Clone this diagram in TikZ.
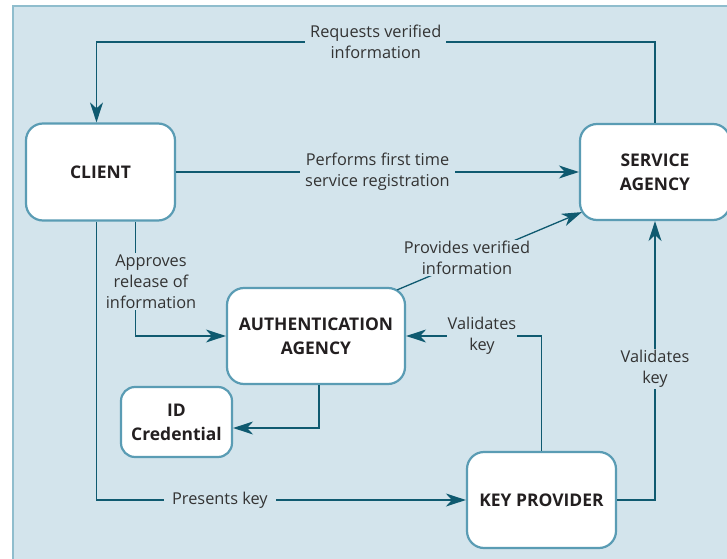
\documentclass[tikz,border=0pt]{standalone}
\usepackage{fontspec}
\setmainfont{Open Sans}
\usetikzlibrary{arrows.meta,calc}
\definecolor{bg}{HTML}{D3E4EC}
\definecolor{panelline}{HTML}{8FBDCD}
\definecolor{boxline}{HTML}{5A9CB4}
\definecolor{conncol}{HTML}{0F5A70}
\definecolor{txt}{HTML}{231F20}
\definecolor{lbl}{HTML}{333333}
\begin{document}
\begin{tikzpicture}[x=1bp,y=-1bp,
 box/.style={draw=boxline,line width=2.2bp,fill=white,rounded corners=17bp,
   font=\fontsize{17.5}{24}\selectfont\bfseries,text=txt,align=center,inner sep=0pt},
 conn/.style={draw=conncol,line width=1.3bp},
 arr/.style={conn,-{Stealth[length=20bp,width=13bp,inset=6bp]}},
 lab/.style={fill=bg,font=\fontsize{16.4}{21}\selectfont,text=lbl,align=center,inner xsep=5bp,inner ysep=1.5bp}]
\useasboundingbox (0,0) rectangle (727,559);
\fill[bg] (13,6) rectangle (740,570);
\draw[panelline,line width=1.2bp] (13,570) -- (13,6) -- (740,6);

\node[box,minimum width=149bp,minimum height=97bp] (client) at (100.5,172) {CLIENT};
\node[box,minimum width=150bp,minimum height=96bp] (service) at (655,172) {SERVICE\\AGENCY};
\node[box,minimum width=178bp,minimum height=96bp] (auth) at (316,336) {AUTHENTICATION\\AGENCY};
\node[box,minimum width=111bp,minimum height=70bp,rounded corners=14bp] (idc) at (176.5,422) {ID\\Credential};
\node[box,minimum width=149bp,minimum height=96bp] (key) at (541.5,500) {KEY PROVIDER};

% requests verified information
\draw[arr] (service.north) -- ++(0,-81) -| node[lab,pos=0.25]{Requests verified\\information} ($(client.north)+(-4,0)$);
% performs first time registration
\draw[arr] (client.east) -- node[lab]{Performs first time\\service registration} (service.west);
% approves release
\draw[arr] ($(client.south)+(35,0)$) |- (auth.west);
\node[lab] (approves) at ($(client.south)+(50.5,60)$) {Approves\\release of\\information};
% presents key
\draw[arr] ($(client.south)+(-4,0)$) |- node[lab,pos=0.667,inner xsep=8bp]{Presents key} (key.west);
% provides verified info
\draw[arr] ($(auth.north east)+(-9,3)$) -- ($(service.south west)+(3,-9)$);
\node[lab] (provides) at ($(auth.center)+(151,-78)$) {Provides verified\\information};
% auth to id credential
\draw[arr] ($(auth.south)+(3,0)$) |- ($(idc.east)+(0,6)$);
% key to auth
\draw[arr] (key.north) |- node[lab,pos=0.72,inner xsep=1bp]{Validates\\key} (auth.east);
% key to service
\draw[arr] (key.east) -| node[lab,pos=0.735]{Validates\\key} (service.south);
\end{tikzpicture}
\end{document}
